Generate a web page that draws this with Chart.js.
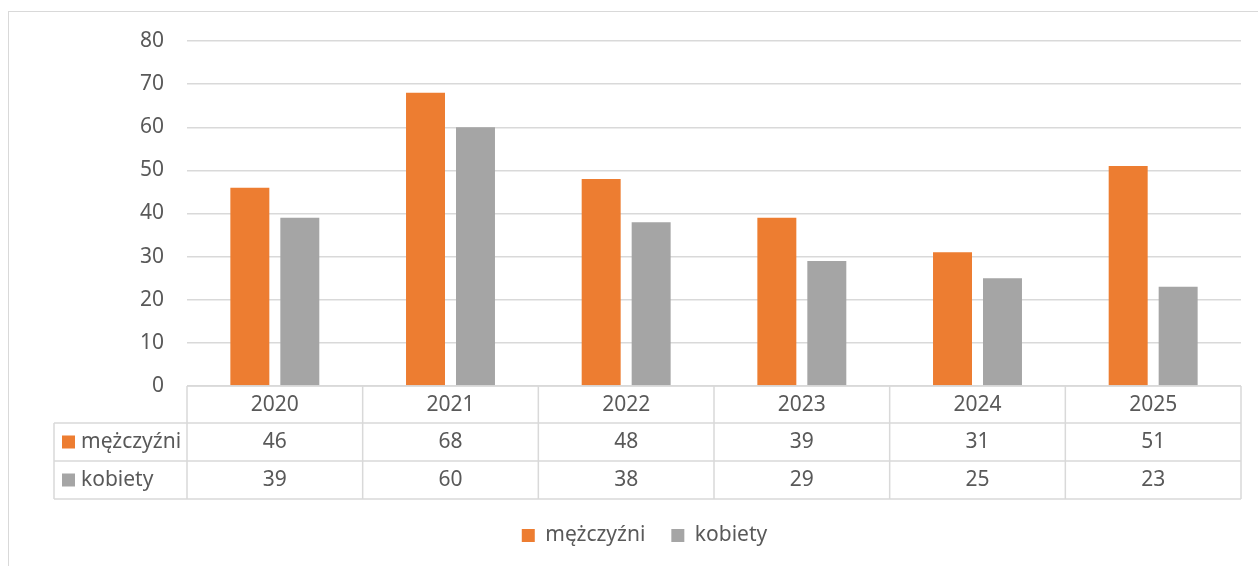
<!DOCTYPE html>
<html>
<head>
<meta charset="utf-8">
<script src="https://cdn.jsdelivr.net/npm/chart.js@4.4.1/dist/chart.umd.min.js"></script>
<style>
    body { margin: 0; background: #ffffff; }
    #wrap { position: relative; width: 1258px; height: 566px; }
</style>
</head>
<body>
<div id="wrap"><canvas id="barChart" width="1258" height="566"></canvas></div>
<script>
// Dane
const years = ['2020', '2021', '2022', '2023', '2024', '2025'];
const menValues = [46, 68, 48, 39, 31, 51];
const womenValues = [39, 60, 38, 29, 25, 23];
const seriesLabels = ['mężczyźni', 'kobiety'];
const yMin = 0, yMax = 80, yStep = 10;

const textColor = '#595959';
const lineColor = '#d9d9d9';
const fontFamily = '"Noto Sans", "Open Sans", sans-serif';
const fontSize = 21;

// Tabela danych pod osią X + ramka
const dataTablePlugin = {
    id: 'dataTable',
    afterLayout(chart) {
        // legenda lekko przesunięta w prawo jak w oryginale
        if (chart.legend) {
            chart.legend.left += 24;
            chart.legend.right += 24;
        }
    },
    beforeDraw(chart) {
        const ctx = chart.ctx;
        ctx.save();
        ctx.strokeStyle = lineColor;
        ctx.lineWidth = 1;
        ctx.strokeRect(8.5, 11.5, 1400, 700);
        ctx.restore();
    },
    afterDraw(chart) {
        const { ctx, chartArea } = chart;
        const x = chart.scales.x;
        const colW = (chartArea.right - chartArea.left) / years.length;
        const rows = [chartArea.bottom, chartArea.bottom + 37, chartArea.bottom + 75, chartArea.bottom + 113];
        const labelLeft = 54;

        ctx.save();
        ctx.strokeStyle = lineColor;
        ctx.lineWidth = 1.5;
        ctx.beginPath();
        // poziome linie
        ctx.moveTo(chartArea.left, rows[0]);
        ctx.lineTo(chartArea.right, rows[0]);
        for (let r = 1; r < rows.length; r++) {
            ctx.moveTo(labelLeft, rows[r]);
            ctx.lineTo(chartArea.right, rows[r]);
        }
        // pionowe linie
        for (let i = 0; i <= years.length; i++) {
            const px = chartArea.left + i * colW;
            ctx.moveTo(px, rows[0]);
            ctx.lineTo(px, rows[3]);
        }
        ctx.moveTo(labelLeft, rows[1]);
        ctx.lineTo(labelLeft, rows[3]);
        ctx.stroke();

        ctx.font = fontSize + 'px ' + fontFamily;
        ctx.textBaseline = 'middle';
        chart.data.datasets.forEach((ds, r) => {
            const cy = (rows[r + 1] + rows[r + 2]) / 2;
            ctx.fillStyle = ds.backgroundColor;
            ctx.fillRect(62, cy - 6.5, 13, 13);
            ctx.fillStyle = textColor;
            ctx.textAlign = 'left';
            ctx.fillText(ds.label, 81, cy);
            ctx.textAlign = 'center';
            ds.data.forEach((v, i) => {
                ctx.fillText(String(v), x.getPixelForValue(i), cy);
            });
        });
        ctx.restore();
    }
};

const barCtx = document.getElementById('barChart').getContext('2d');
new Chart(barCtx, {
    type: 'bar',
    data: {
        labels: years,
        datasets: [
            {
                label: seriesLabels[0],
                data: menValues,
                backgroundColor: '#ed7d31',
                borderWidth: 0,
                categoryPercentage: 0.569,
                barPercentage: 0.78
            },
            {
                label: seriesLabels[1],
                data: womenValues,
                backgroundColor: '#a5a5a5',
                borderWidth: 0,
                categoryPercentage: 0.569,
                barPercentage: 0.78
            }
        ]
    },
    options: {
        responsive: false,
        animation: false,
        layout: {
            padding: { top: 41, right: 17, bottom: 10, left: 0 }
        },
        plugins: {
            legend: {
                display: true,
                position: 'bottom',
                labels: {
                    color: textColor,
                    font: { size: fontSize, family: fontFamily },
                    boxWidth: 13,
                    boxHeight: 13,
                    padding: 26
                }
            },
            tooltip: { enabled: false }
        },
        scales: {
            y: {
                min: yMin,
                max: yMax,
                ticks: {
                    stepSize: yStep,
                    color: textColor,
                    font: { size: fontSize, family: fontFamily },
                    padding: 23
                },
                grid: {
                    color: lineColor,
                    lineWidth: 1.5,
                    drawTicks: false
                },
                border: { display: false },
                afterFit(scale) { scale.width = 187; }
            },
            x: {
                ticks: {
                    color: textColor,
                    font: { size: fontSize, family: fontFamily },
                    padding: 6,
                    maxRotation: 0
                },
                grid: { display: false, drawTicks: false },
                border: { display: false },
                afterFit(scale) { scale.height = 113; }
            }
        }
    },
    plugins: [dataTablePlugin]
});
</script>
</body>
</html>
